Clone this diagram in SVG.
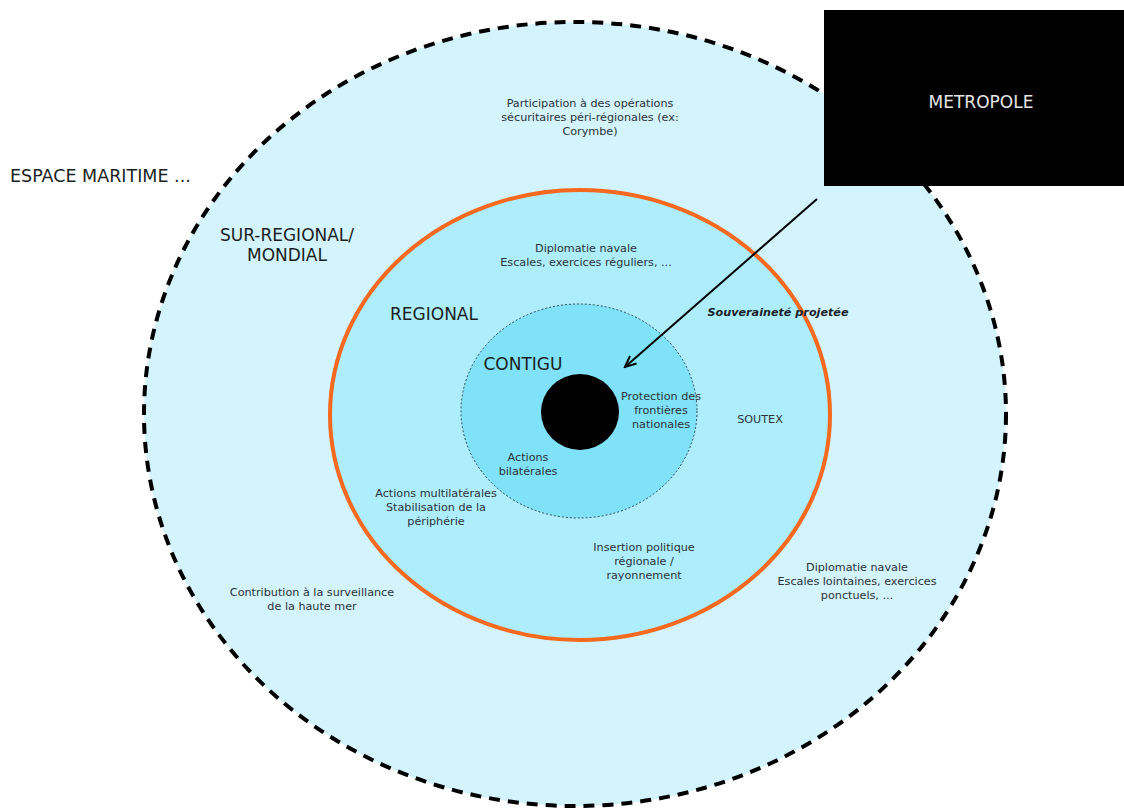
<svg xmlns="http://www.w3.org/2000/svg" width="1124" height="810" viewBox="0 0 1124 810">
<style>
.t{font-family:"DejaVu Sans",Verdana,sans-serif;font-size:11.2px;fill:#2a3338;text-anchor:middle}
.L{font-family:"DejaVu Sans",Verdana,sans-serif;font-size:17px;fill:#1a1f22;text-anchor:middle}
</style>
<defs>
<marker id="ah" markerWidth="14" markerHeight="12" refX="12" refY="6" orient="auto" markerUnits="userSpaceOnUse">
<path d="M1,1 L12,6 L1,11" fill="none" stroke="#000" stroke-width="2"/>
</marker>
</defs>
<rect width="1124" height="810" fill="#fff"/>
<g id="sur-regional">
<ellipse cx="575" cy="414" rx="431" ry="392" fill="#d3f4fd" stroke="#000" stroke-width="4" stroke-dasharray="11 8"/>
<text class="L" x="287" y="241">SUR-REGIONAL/</text>
<text class="L" x="287" y="261">MONDIAL</text>
<text class="t" x="590" y="107">Participation à des opérations</text>
<text class="t" x="590" y="121">sécuritaires péri-régionales (ex:</text>
<text class="t" x="590" y="135">Corymbe)</text>
<text class="t" x="857" y="571">Diplomatie navale</text>
<text class="t" x="857" y="585">Escales lointaines, exercices</text>
<text class="t" x="857" y="599">ponctuels, ...</text>
<text class="t" x="312" y="596">Contribution à la surveillance</text>
<text class="t" x="312" y="610">de la haute mer</text>
</g>
<g id="espace">
<text class="L" x="10" y="182" style="text-anchor:start;font-size:17.5px">ESPACE MARITIME ...</text>
</g>
<g id="regional">
<ellipse cx="580" cy="415" rx="250" ry="225" fill="#aeeefc" stroke="#f5691e" stroke-width="4"/>
<text class="L" x="434" y="320">REGIONAL</text>
<text class="t" x="586" y="252">Diplomatie navale</text>
<text class="t" x="586" y="266">Escales, exercices réguliers, ...</text>
<text class="t" x="760" y="423">SOUTEX</text>
<text class="t" x="436" y="497">Actions multilatérales</text>
<text class="t" x="436" y="511">Stabilisation de la</text>
<text class="t" x="436" y="525">périphérie</text>
<text class="t" x="644" y="551">Insertion politique</text>
<text class="t" x="644" y="565">régionale /</text>
<text class="t" x="644" y="579">rayonnement</text>
</g>
<g id="contigu">
<ellipse cx="579" cy="411" rx="118" ry="107" fill="#80e2f8" stroke="#2a4650" stroke-width="1" stroke-dasharray="2 2"/>
<text class="L" x="523" y="370">CONTIGU</text>
<text class="t" x="661" y="400">Protection des</text>
<text class="t" x="661" y="414">frontières</text>
<text class="t" x="661" y="428">nationales</text>
<text class="t" x="528" y="461">Actions</text>
<text class="t" x="528" y="475">bilatérales</text>
</g>
<g id="centre">
<ellipse cx="580" cy="412" rx="39" ry="38" fill="#000"/>
</g>
<g id="metropole">
<rect x="824" y="10" width="300" height="176" fill="#000"/>
<text class="L" x="981" y="108" style="fill:#e6e6e6">METROPOLE</text>
</g>
<g id="connectors">
<line x1="817" y1="199" x2="625" y2="367" stroke="#000" stroke-width="2" marker-end="url(#ah)"/>
<text class="t" x="778" y="316" style="font-weight:bold;font-style:italic;fill:#1a2328">Souveraineté projetée</text>
</g>
</svg>
